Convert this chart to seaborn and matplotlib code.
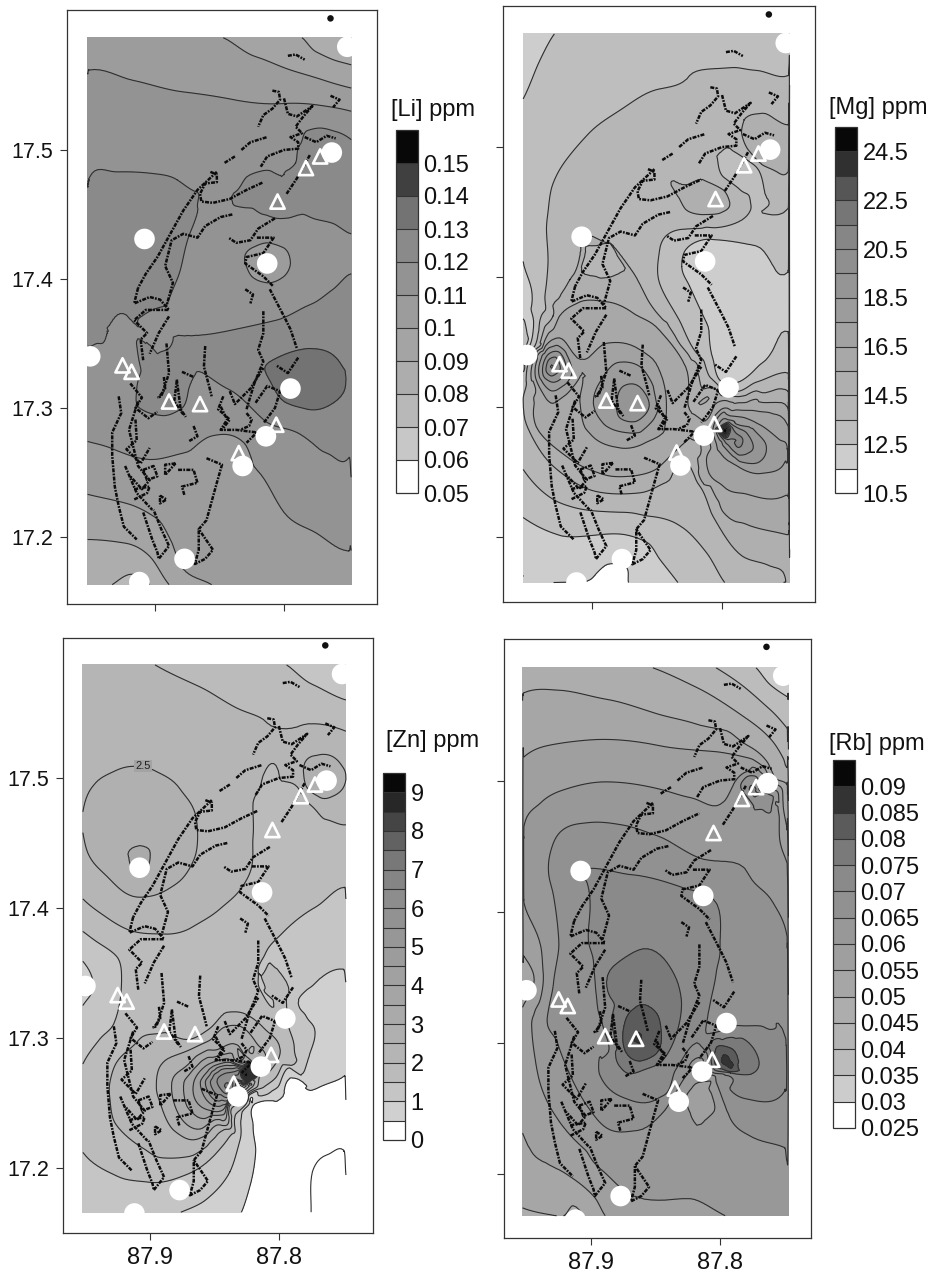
import numpy as np
import pandas as pd
import matplotlib
matplotlib.use('Agg')
import matplotlib.pyplot as plt
import matplotlib.tri as mtri
from matplotlib.colors import ListedColormap, BoundaryNorm
import seaborn as sns

sns.set_theme(style='white')
plt.rcParams['font.family'] = ['Liberation Sans', 'DejaVu Sans']

# sites
circle_lon = [87.763, 87.908, 87.813, 87.950, 87.795, 87.814, 87.832, 87.877, 87.912, 87.751]
circle_lat = [17.498, 17.431, 17.412, 17.340, 17.315, 17.278, 17.255, 17.183, 17.165, 17.580]
tri_lon = [87.772, 87.783, 87.805, 87.925, 87.918, 87.889, 87.865, 87.835, 87.806]
tri_lat = [17.495, 17.486, 17.460, 17.333, 17.328, 17.305, 17.303, 17.265, 17.287]
dot_lon = [87.764]
dot_lat = [17.602]

# coastline traced by hand, (lon, lat) per stretch
coast = [
    ([87.797, 87.791, 87.784], [17.573, 17.574, 17.570]),
    ([87.764, 87.757, 87.762], [17.542, 17.539, 17.533]),
    ([87.809, 87.804, 87.803, 87.809, 87.816, 87.820], [17.546, 17.545, 17.539, 17.532, 17.527, 17.518]),
    ([87.800, 87.797, 87.790, 87.778, 87.785, 87.791, 87.786, 87.795, 87.789, 87.789, 87.800, 87.813, 87.818],
     [17.540, 17.528, 17.526, 17.534, 17.526, 17.518, 17.513, 17.510, 17.506, 17.501, 17.500, 17.495, 17.487]),
    ([87.833, 87.826, 87.813], [17.500, 17.506, 17.510]),
    ([87.846, 87.838], [17.490, 17.495]),
    ([87.857, 87.852, 87.852, 87.861, 87.865, 87.864, 87.855, 87.842, 87.829, 87.816],
     [17.483, 17.481, 17.475, 17.474, 17.466, 17.460, 17.459, 17.462, 17.469, 17.475]),
    ([87.784, 87.775, 87.767, 87.760], [17.510, 17.506, 17.511, 17.509]),
    ([87.780, 87.790, 87.798], [17.496, 17.478, 17.466]),
    ([87.807, 87.820, 87.826, 87.837, 87.843], [17.447, 17.439, 17.430, 17.428, 17.432]),
    ([87.840, 87.849, 87.861, 87.867, 87.878, 87.887, 87.892, 87.886, 87.891],
     [17.450, 17.448, 17.441, 17.432, 17.435, 17.430, 17.410, 17.397, 17.379]),
    ([87.821, 87.808, 87.816, 87.829, 87.830, 87.816, 87.808], [17.432, 17.432, 17.420, 17.417, 17.412, 17.402, 17.394]),
    ([87.811, 87.800, 87.795, 87.790], [17.392, 17.371, 17.361, 17.346]),
    ([87.789, 87.797, 87.806], [17.339, 17.327, 17.333]),
    ([87.816, 87.816, 87.820, 87.816, 87.823, 87.829], [17.375, 17.358, 17.345, 17.336, 17.319, 17.299]),
    ([87.830, 87.824, 87.826], [17.392, 17.388, 17.381]),
    ([87.852, 87.867, 87.878, 87.888, 87.898, 87.907, 87.913], [17.483, 17.469, 17.453, 17.435, 17.417, 17.404, 17.393]),
    ([87.913, 87.916, 87.904, 87.896, 87.889, 87.907, 87.916, 87.906, 87.911, 87.909],
     [17.393, 17.381, 17.386, 17.384, 17.376, 17.376, 17.368, 17.358, 17.353, 17.337]),
    ([87.889, 87.897, 87.904], [17.371, 17.358, 17.342]),
    ([87.891, 87.889, 87.895, 87.898], [17.350, 17.327, 17.309, 17.308]),
    ([87.861, 87.862, 87.858, 87.856], [17.348, 17.332, 17.317, 17.309]),
    ([87.879, 87.870], [17.328, 17.324]),
    ([87.883, 87.885, 87.878], [17.321, 17.305, 17.295]),
    ([87.842, 87.838, 87.826, 87.816], [17.313, 17.303, 17.315, 17.331]),
    ([87.849, 87.844, 87.849, 87.837, 87.821, 87.829], [17.301, 17.291, 17.283, 17.283, 17.281, 17.273]),
    ([87.870, 87.867, 87.874], [17.286, 17.278, 17.274]),
    ([87.928, 87.926, 87.933, 87.933, 87.931, 87.928, 87.924, 87.914], [17.309, 17.296, 17.281, 17.263, 17.239, 17.224, 17.208, 17.198]),
    ([87.913, 87.920, 87.913, 87.904, 87.910, 87.919], [17.305, 17.283, 17.255, 17.244, 17.237, 17.247]),
    ([87.923, 87.914, 87.902], [17.255, 17.234, 17.221]),
    ([87.909, 87.902, 87.898, 87.897, 87.889, 87.895, 87.901], [17.219, 17.198, 17.188, 17.183, 17.193, 17.206, 17.221]),
    ([87.882, 87.870, 87.867, 87.879, 87.877], [17.252, 17.252, 17.242, 17.239, 17.232]),
    ([87.860, 87.848, 87.852, 87.860, 87.866, 87.855, 87.861, 87.869, 87.866, 87.866],
     [17.261, 17.256, 17.242, 17.213, 17.206, 17.190, 17.183, 17.179, 17.190, 17.206]),
    ([87.884, 87.892, 87.892, 87.884], [17.257, 17.256, 17.248, 17.257]),
    # the tangle in the southwest
    ([87.919, 87.910, 87.915, 87.905, 87.898], [17.319, 17.308, 17.300, 17.292, 17.297]),
    ([87.915, 87.914, 87.922, 87.911, 87.904], [17.291, 17.275, 17.268, 17.257, 17.269]),
    ([87.909, 87.901, 87.898, 87.906, 87.909], [17.252, 17.255, 17.247, 17.244, 17.252]),
    ([87.916, 87.904, 87.906, 87.916], [17.237, 17.239, 17.234, 17.229]),
    ([87.896, 87.891, 87.896, 87.896], [17.232, 17.229, 17.226, 17.232]),
    ([87.847, 87.851, 87.842, 87.848], [17.309, 17.299, 17.291, 17.283]),
    ([87.829, 87.825, 87.827, 87.834], [17.296, 17.291, 17.286, 17.283]),
    ([87.893, 87.892, 87.897], [17.324, 17.315, 17.308]),
    ([87.883, 87.880, 87.876], [17.322, 17.299, 17.293]),
    ([87.822, 87.813, 87.803, 87.807, 87.816], [17.304, 17.317, 17.313, 17.300, 17.288]),
]

# isolines: (value, lon - 87, lat - 17)
li_lines = [
    (.09, [.786, .775, .762, .748], [.587, .576, .570, .566]),
    (.10, [.847, .821, .795, .769, .748], [.587, .572, .562, .554, .548]),
    (.11, [.951, .917, .878, .839, .800, .775, .748], [.562, .554, .545, .539, .536, .535, .530]),
    (.12, [.951, .929, .904, .883, .869, .867, .873, .879, .886, .891, .904, .922, .937, .944, .952],
     [.478, .483, .482, .477, .468, .456, .435, .412, .392, .379, .375, .372, .362, .350, .348]),
    (.12, [.748, .759, .772, .782, .787, .791, .800, .816, .829, .837, .826, .816, .806, .780, .762, .748],
     [.508, .514, .517, .515, .505, .490, .481, .484, .479, .468, .455, .450, .447, .448, .443, .435]),
    (.11, [.813, .800, .795, .800, .813, .825, .830, .825], [.428, .424, .412, .402, .397, .402, .412, .424]),
    (.12, [.748, .762, .780, .806, .847, .886, .898, .911, .914, .913, .893, .880, .873, .861, .842, .816, .790, .767, .750],
     [.404, .392, .380, .368, .359, .352, .342, .331, .315, .301, .294, .299, .317, .326, .314, .291, .281, .265, .261]),
    (.13, [.782, .762, .752, .759, .782, .800, .812, .803], [.346, .341, .323, .306, .299, .305, .323, .340]),
    (.11, [.952, .932, .904, .878, .857, .831, .821, .800, .775, .750], [.274, .268, .260, .265, .278, .273, .252, .219, .203, .189]),
    (.10, [.952, .922, .901, .888, .878, .856], [.233, .226, .216, .198, .175, .163]),
    (.09, [.952, .922, .904, .889], [.198, .195, .185, .163]),
    (.08, [.933, .919, .904], [.163, .171, .163]),
]
li_extra_lon = [.952, .748, .952, .748, .852, .904, .826, .852, .762, .762, .826, .929, .852, .748, .782, .813, .912, .762, .865, .904, .904, .929, .800]
li_extra_lat = [.587, .587, .163, .163, .513, .435, .389, .335, .358, .474, .229, .306, .564, .419, .323, .412, .165, .229, .303, .281, .242, .177, .177]
li_extra_val = [.105, .085, .085, .105, .1155, .125, .115, .125, .125, .125, .105, .115, .105, .115, .136, .107, .077, .115, .118, .115, .105, .085, .105]

mg_lines = [
    (12.5, [.929, .940, .953], [.587, .567, .537]),
    (12.5, [.953, .946, .945, .948, .953], [.412, .383, .362, .347, .343]),
    (13.5, [.749, .774, .794, .825, .851, .876, .902, .920, .930, .934, .935, .934, .936, .940, .944, .953],
     [.555, .559, .561, .555, .544, .530, .511, .490, .472, .449, .434, .408, .388, .367, .347, .338]),
    (13.5, [.749, .766, .774, .794, .804, .799, .786, .779, .781, .804, .835, .848, .848, .833, .820, .810, .802, .788, .774, .749],
     [.453, .462, .485, .499, .493, .477, .467, .462, .447, .438, .436, .421, .395, .367, .342, .324, .313, .312, .319, .326]),
    (13.5, [.953, .930, .915, .897, .856, .833, .812, .798], [.252, .229, .223, .220, .216, .209, .188, .165]),
    (12.5, [.749, .774, .812, .828, .831, .825, .812, .807, .802, .788, .769, .749],
     [.404, .424, .429, .421, .408, .393, .365, .337, .321, .319, .334, .358]),
    (12.5, [.953, .930, .902, .876, .858, .848, .834], [.215, .203, .201, .202, .196, .183, .165]),
    (11.5, [.953, .941], [.170, .165]),
    (11.5, [.904, .888, .874, .872], [.166, .179, .177, .165]),
    (14.5, [.749, .769, .783, .785, .780, .771, .758, .749], [.517, .526, .521, .511, .498, .488, .481, .481]),
    (14.5, [.815, .828, .834, .828, .815, .802, .794, .799], [.475, .471, .462, .452, .448, .449, .457, .467]),
    (14.5, [.749, .769, .788, .804, .820, .848, .868, .886, .908, .917, .930, .940, .949],
     [.312, .311, .308, .313, .334, .370, .403, .426, .427, .398, .370, .347, .334]),
    (14.5, [.953, .945, .927, .897, .863, .843, .828, .817, .807, .784, .751],
     [.306, .275, .252, .235, .234, .242, .260, .239, .216, .185, .166]),
    (15.5, [.749, .774, .799, .812, .816, .815, .799, .751], [.299, .306, .305, .290, .267, .242, .219, .202]),
    (15.5, [.828, .851, .868, .889, .909, .925, .936, .945, .943, .917, .891, .868, .851, .835, .825],
     [.331, .362, .372, .381, .381, .370, .352, .319, .285, .260, .248, .247, .252, .267, .298]),
    (16.5, [.749, .774, .799, .810, .812, .810, .799, .781, .751], [.285, .297, .299, .283, .260, .249, .239, .233, .232]),
    (17.5, [.799, .774, .756, .750, .752, .769, .789, .804, .807], [.296, .288, .275, .270, .257, .249, .255, .270, .283]),
    (18.5, [.794, .776, .766, .771, .786, .799], [.290, .283, .270, .258, .258, .270]),
    (19.5, [.793, .781, .776, .781, .792, .799], [.287, .280, .270, .264, .267, .275]),
    (20.5, [.792, .784, .788, .795], [.284, .275, .269, .275]),
    (16.5, [.889, .863, .845, .843, .858, .881, .902, .909, .907], [.349, .344, .319, .293, .273, .269, .280, .301, .321]),
    (17.5, [.881, .863, .852, .853, .871, .891, .899, .891], [.334, .331, .311, .290, .280, .287, .303, .324]),
    (18.5, [.876, .861, .856, .866, .879, .881], [.316, .313, .301, .289, .292, .303]),
    (16.5, [.940, .930, .915, .909, .922, .935, .943], [.342, .352, .342, .324, .308, .306, .321]),
    (18.5, [.935, .925, .920, .930, .938], [.339, .342, .329, .319, .326]),
]
mg_extra_lon = [.953, .748, .953, .748, .851, .902, .749, .749, .774, .902, .774, .749, .749, .863, .889, .868, .932, .798, .804, .953, .953, .953, .953, .749, .749, .749, .749]
mg_extra_lat = [.587, .587, .165, .165, .575, .549, .536, .500, .383, .183, .173, .183, .219, .439, .408, .303, .331, .281, .403, .340, .319, .383, .472, .383, .342, .434, .315]
mg_extra_val = [12.2, 13.2, 11.7, 14.9, 13.0, 13.0, 14.0, 15.0, 12.1, 12.1, 14.2, 15.0, 16.0, 14.0, 14.2, 19.3, 20.5, 25.0, 11.6, 12.0, 14.0, 12.1, 13.0, 11.9, 13.0, 12.9, 14.0]

zn_lines = [
    (2.0, [.896, .861, .833, .812, .781, .748], [.587, .570, .554, .545, .541, .536]),
    (1.5, [.794, .774, .748], [.587, .572, .560]),
    (2.5, [.952, .944, .928, .913, .895, .877, .865, .863, .866, .879, .900, .916, .934, .948, .952],
     [.474, .494, .505, .509, .505, .492, .473, .455, .437, .419, .409, .410, .425, .442, .458]),
    (3.0, [.916, .908, .900, .908], [.436, .448, .437, .427]),
    (2.5, [.768, .753, .748, .756, .768, .779, .781], [.518, .512, .499, .487, .485, .494, .506]),
    (2.0, [.952, .931, .913, .890, .866, .846, .830, .821, .820, .820, .814, .799, .784, .774, .763, .748],
     [.407, .391, .382, .380, .386, .399, .414, .432, .455, .481, .495, .499, .491, .478, .468, .464]),
    (1.5, [.749, .771, .797, .810, .816, .815, .807, .792, .788, .790, .802, .812, .823],
     [.416, .401, .381, .366, .350, .338, .325, .307, .291, .279, .270, .262, .257]),
    (1.0, [.750, .771, .785, .779, .772, .776, .792, .823], [.353, .343, .327, .317, .302, .288, .277, .256]),
    (0.5, [.749, .771, .799, .820, .820, .818, .823, .829], [.271, .261, .253, .248, .233, .212, .184, .166]),
    (0.0, [.775, .774, .763, .750], [.166, .197, .210, .214]),
    (1.0, [.876, .856, .838, .830], [.166, .176, .197, .222]),
    (1.5, [.952, .926, .900, .874, .848, .834], [.212, .194, .189, .194, .212, .240]),
    (1.5, [.952, .944, .926, .922, .928, .939, .952], [.382, .376, .363, .348, .311, .299, .280]),
    (1.0, [.952, .944, .952], [.359, .340, .325]),
    (2.0, [.931, .926, .910, .890, .869, .854, .838, .825, .812, .799, .802, .815, .826, .837, .851, .869, .892, .905, .926, .931],
     [.266, .281, .297, .304, .299, .307, .320, .318, .308, .291, .281, .271, .253, .245, .222, .209, .208, .215, .233, .253]),
    (2.5, [.895, .890, .869, .856, .843, .830, .818, .812, .820, .830, .838, .848, .864, .879, .892],
     [.263, .281, .291, .297, .308, .309, .297, .281, .263, .253, .248, .233, .222, .227, .250]),
    (3.0, [.883, .869, .848, .833, .823, .823, .841, .861, .877], [.266, .281, .291, .295, .284, .266, .238, .230, .240]),
    (4.0, [.866, .856, .841, .828, .828, .843, .856], [.266, .279, .284, .279, .263, .245, .245]),
    (6.0, [.848, .841, .832, .827, .838], [.266, .273, .275, .266, .258]),
]
zn_extra_lon = [.952, .748, .952, .748, .825, .758, .797, .908, .763, .952, .748, .748, .748, .748, .848, .926, .797, .900, .952, .900, .848, .797, .874]
zn_extra_lat = [.587, .587, .166, .166, .271, .179, .204, .437, .501, .341, .384, .320, .230, .435, .537, .563, .435, .332, .243, .174, .174, .332, .358]
zn_extra_val = [2.3, 1.3, 1.3, -.1, 9.3, -.1, .25, 3.2, 2.8, .9, 1.35, .85, .3, 1.7, 2.2, 2.3, 1.8, 1.9, 1.7, 1.3, .85, 1.6, 1.9]

rb_lines = [
    (.035, [.772, .761, .748], [.586, .573, .564]),
    (.04, [.803, .782, .761, .748], [.586, .572, .554, .540]),
    (.045, [.852, .818, .782, .761, .751, .748], [.586, .571, .549, .532, .517, .510]),
    (.05, [.952, .926, .888, .849, .818, .779, .764, .756, .748], [.567, .569, .562, .551, .543, .527, .515, .501, .497]),
    (.055, [.952, .932, .901, .849, .803, .777, .759, .751, .748], [.518, .527, .531, .527, .522, .517, .496, .480, .463]),
    (.06, [.952, .939, .921, .888, .849, .823, .797, .790, .779, .766, .757, .754, .748],
     [.465, .483, .493, .499, .494, .487, .484, .496, .507, .501, .483, .458, .437]),
    (.06, [.952, .939, .937, .946, .942, .926, .893, .880, .867, .823, .796], [.407, .374, .353, .313, .280, .242, .204, .192, .183, .181, .168]),
    (.055, [.953, .921, .898, .889], [.231, .201, .183, .168]),
    (.055, [.952, .944, .953], [.366, .348, .327]),
    (.05, [.953, .921], [.174, .168]),
    (.065, [.748, .759, .777, .813, .849, .875, .901, .921, .930, .933, .929, .925, .929, .934, .926, .916, .901, .888, .864, .844, .836, .826, .813, .805, .803, .792, .777, .750],
     [.381, .407, .427, .440, .458, .466, .468, .463, .450, .432, .412, .379, .346, .318, .300, .275, .249, .235, .233, .247, .259, .275, .287, .275, .270, .242, .229, .220]),
    (.07, [.902, .901, .903, .909, .901, .867, .828, .808, .800, .803, .808, .818, .834, .841, .849, .877, .893, .894, .886, .890, .895, .898],
     [.378, .397, .422, .431, .433, .428, .418, .412, .371, .353, .328, .300, .280, .262, .257, .259, .275, .285, .295, .310, .328, .361]),
    (.075, [.888, .867, .841, .830, .832, .844, .857, .874, .881, .883], [.346, .369, .361, .333, .313, .287, .280, .278, .292, .310]),
    (.08, [.875, .862, .846, .849, .862, .874], [.310, .329, .313, .292, .286, .295]),
    (.07, [.803, .784, .764, .749, .750, .774, .792, .805], [.308, .313, .311, .303, .263, .256, .264, .277]),
    (.075, [.803, .782, .770, .774, .792], [.303, .303, .287, .277, .277]),
    (.08, [.803, .792, .786, .792, .803], [.296, .296, .287, .278, .282]),
    (.065, [.784, .779, .772, .759, .760, .769, .777], [.496, .503, .503, .488, .480, .478, .485]),
]
rb_extra_lon = [.953, .747, .953, .747, .867, .795, .774, .762, .901, .772, .952, .952, .912, .797, .815, .818, .901, .901, .875]
rb_extra_lat = [.586, .586, .168, .168, .303, .287, .491, .498, .336, .348, .183, .342, .169, .209, .259, .237, .546, .585, .196]
rb_extra_val = [.047, .032, .047, .0615, .085, .086, .071, .046, .0675, .0675, .052, .05, .049, .0625, .0565, .06, .0525, .047, .0605]

li_levels = [.05, .06, .07, .08, .09, .10, .11, .12, .13, .14, .15, .16]
li_ticks = [.05, .06, .07, .08, .09, .10, .11, .12, .13, .14, .15]
li_labels = ['0.05', '0.06', '0.07', '0.08', '0.09', '0.1', '0.11', '0.12', '0.13', '0.14', '0.15']
mg_levels = [10.5, 11.5, 12.5, 13.5, 14.5, 15.5, 16.5, 17.5, 18.5, 19.5, 20.5, 21.5, 22.5, 23.5, 24.5, 25.5]
mg_ticks = [10.5, 12.5, 14.5, 16.5, 18.5, 20.5, 22.5, 24.5]
mg_labels = ['10.5', '12.5', '14.5', '16.5', '18.5', '20.5', '22.5', '24.5']
zn_levels = [0, .5, 1, 1.5, 2, 2.5, 3, 3.5, 4, 4.5, 5, 5.5, 6, 6.5, 7, 7.5, 8, 8.5, 9, 9.5]
zn_ticks = [0, 1, 2, 3, 4, 5, 6, 7, 8, 9]
zn_labels = ['0', '1', '2', '3', '4', '5', '6', '7', '8', '9']
rb_levels = [.025, .03, .035, .04, .045, .05, .055, .06, .065, .07, .075, .08, .085, .09, .095]
rb_ticks = rb_levels[:-1]
rb_labels = ['0.025', '0.03', '0.035', '0.04', '0.045', '0.05', '0.055', '0.06', '0.065', '0.07', '0.075', '0.08', '0.085', '0.09']

W, H = 935, 1272


def px_axes(fig, left, top, right, bottom):
    return fig.add_axes([left / W, 1 - bottom / H, (right - left) / W, (bottom - top) / H])


def band_colors(n):
    # white first band, steep first steps, long flat mid greys, black top
    f = np.arange(n) / (n - 1)
    g = np.interp(f, [0, .15, .3, .5, .7, .8, .9, 1], [.86, .74, .68, .61, .54, .45, .25, .03])
    g[0] = 1.0
    return ListedColormap([(v, v, v) for v in g])


def field(lines, ex_lon, ex_lat, ex_val):
    rows = [pd.DataFrame({'lon': ln, 'lat': lt, 'val': v}) for v, ln, lt in lines]
    rows.append(pd.DataFrame({'lon': ex_lon, 'lat': ex_lat, 'val': ex_val}))
    df = pd.concat(rows).drop_duplicates(['lon', 'lat'])
    return df.lon.values + 87, df.lat.values + 17, df.val.values


def panel(fig, frame, xlim, ylim, lines, ex_lon, ex_lat, ex_val, levels, ticks, labels,
          cbar_box, title, title_xy, left_labels, bottom_labels):
    ax = px_axes(fig, *frame)
    x, y, z = field(lines, ex_lon, ex_lat, ex_val)
    tr = mtri.Triangulation(x, y)
    interp = mtri.CubicTriInterpolator(tr, z, kind='geom')
    fine, zfine = mtri.UniformTriRefiner(tr).refine_field(z, triinterpolator=interp, subdiv=3)

    cmap = band_colors(len(levels) - 1)
    norm = BoundaryNorm(levels, cmap.N)
    cf = ax.tricontourf(fine, zfine, levels=levels, cmap=cmap, norm=norm, zorder=1)
    ax.tricontour(fine, zfine, levels=levels, colors='#2e2e2e', linewidths=.8, zorder=2)

    for seg_lon, seg_lat in coast:
        sns.lineplot(x=seg_lon, y=seg_lat, sort=False, estimator=None, color='#0c0c0c', lw=1.8,
                     linestyle=(0, (1.6, .5, .7, .5)), ax=ax, zorder=3)
    sns.scatterplot(x=dot_lon, y=dot_lat, color='#111111', s=22, edgecolor='none', ax=ax, zorder=3)
    sns.scatterplot(x=circle_lon, y=circle_lat, color='white', s=220, edgecolor='none', ax=ax, zorder=4)
    sns.scatterplot(x=tri_lon, y=tri_lat, marker='^', s=105, facecolor='none', edgecolor='white',
                    linewidth=1.9, ax=ax, zorder=5)

    ax.set_xlim(*xlim)
    ax.set_ylim(*ylim)
    ax.set_xticks([87.9, 87.8])
    ax.set_yticks([17.2, 17.3, 17.4, 17.5])
    ax.set_xticklabels(['87.9', '87.8'] if bottom_labels else [], fontsize=17)
    ax.set_yticklabels(['17.2', '17.3', '17.4', '17.5'] if left_labels else [], fontsize=15.5)
    ax.tick_params(length=5, width=.8, color='#333333', labelcolor='#111111', bottom=True, left=True, pad=5)
    ax.set_xlabel('')
    ax.set_ylabel('')
    for s in ax.spines.values():
        s.set_linewidth(.9)
        s.set_color('#333333')

    cax = px_axes(fig, *cbar_box)
    cb = fig.colorbar(cf, cax=cax, ticks=ticks, drawedges=True, spacing='uniform')
    cb.minorticks_off()
    cb.ax.set_yticklabels(labels, fontsize=17, color='#111111')
    cb.ax.tick_params(length=0, pad=4)
    cb.dividers.set_color('#333333')
    cb.dividers.set_linewidth(.8)
    cb.outline.set_edgecolor('#333333')
    cb.outline.set_linewidth(.9)
    fig.text(title_xy[0] / W, 1 - title_xy[1] / H, title, fontsize=17, color='#111111', va='center')
    return ax


fig = plt.figure(figsize=(W / 100, H / 100), dpi=100)

panel(fig, (67, 10, 377, 604), (87.968, 87.728), (17.148, 17.6085), li_lines, li_extra_lon, li_extra_lat, li_extra_val,
      li_levels, li_ticks, li_labels, (396, 130, 418, 493), '[Li] ppm', (391, 110), True, False)
panel(fig, (503, 6, 815, 602), (87.9685, 87.7285), (17.15, 17.6085), mg_lines, mg_extra_lon, mg_extra_lat, mg_extra_val,
      mg_levels, mg_ticks, mg_labels, (835, 127, 857, 493), '[Mg] ppm', (829, 108), False, False)
ax3 = panel(fig, (63, 638, 373, 1233), (87.9674, 87.727), (17.15, 17.6077), zn_lines, zn_extra_lon, zn_extra_lat, zn_extra_val,
            zn_levels, zn_ticks, zn_labels, (383, 773, 405, 1140), '[Zn] ppm', (386, 741), True, True)
panel(fig, (504, 639, 811, 1238), (87.9674, 87.7295), (17.151, 17.608), rb_lines, rb_extra_lon, rb_extra_lat, rb_extra_val,
      rb_levels, rb_ticks, rb_labels, (833, 760, 855, 1128), '[Rb] ppm', (829, 744), False, True)

ax3.text(87.9054, 17.509, '2.5', fontsize=8, ha='center', va='center', color='#222222', zorder=6,
         bbox=dict(facecolor='#a3a3a3', edgecolor='none', pad=.8))

fig.savefig('out.png', dpi=100, facecolor='white')
